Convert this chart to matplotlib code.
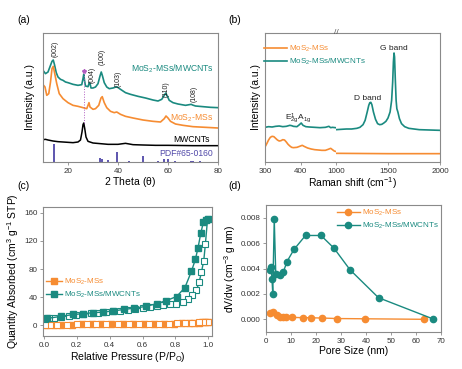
import numpy as np
import matplotlib
matplotlib.use("Agg")
import matplotlib.pyplot as plt

plt.rcParams['font.family'] = ['Liberation Sans', 'DejaVu Sans']
plt.rcParams['mathtext.fontset'] = 'custom'
plt.rcParams['mathtext.rm'] = 'Liberation Sans'
plt.rcParams['mathtext.it'] = 'Liberation Sans'

TEAL = '#1a8a80'
ORANGE = '#f68c32'
PURPLE = '#5048a8'
GRAY = '#8a8a8a'

# ---- (a) XRD ----
xrd_x_hyb = [10, 11, 12, 13, 13.6, 14.1, 14.6, 15.3, 16, 17, 18, 19, 20, 22, 24, 25.5, 26.0, 26.3, 26.6, 27,
             28, 28.5, 28.8, 29.2, 30, 31, 32, 32.8, 33.3, 33.8, 34.5, 35.5, 36.5, 38, 39.5, 41, 43, 45, 48,
             51, 54, 56, 57.5, 58.5, 59.1, 59.7, 60.5, 62, 64, 67, 69.3, 69.8, 71, 74, 77, 80]
xrd_y_hyb = [275, 265, 270, 290, 302, 306, 292, 268, 255, 248, 245, 240, 238, 233, 230, 232, 250, 263, 245, 228,
             226, 238, 236, 222, 222, 225, 235, 258, 270, 258, 238, 225, 220, 222, 226, 218, 208, 203, 197,
             192, 186, 183, 188, 200, 207, 198, 185, 178, 174, 170, 173, 171, 168, 166, 164, 163]
xrd_x_mos = [10, 10.8, 11.5, 12.3, 13, 13.6, 14.1, 14.7, 15.5, 16.5, 18, 20, 22, 24, 26, 27.5, 28.4, 28.8, 30,
             31, 32.3, 33.2, 33.7, 34.5, 35.5, 37, 38.5, 39.5, 41, 43, 46, 50, 54, 57, 58.5, 59.2, 60, 61, 63,
             66, 70, 75, 80]
xrd_y_mos = [232, 225, 200, 205, 240, 280, 287, 265, 235, 205, 190, 178, 170, 167, 163, 160, 178, 165, 158,
             160, 170, 192, 196, 178, 163, 152, 148, 150, 143, 137, 132, 126, 122, 120, 130, 138, 132, 122, 114,
             110, 106, 104, 102]
xrd_x_cnt = [10, 11, 12, 14, 16, 18, 20, 22, 24, 25, 25.6, 26.0, 26.3, 26.7, 27.2, 28, 30, 33, 36, 40, 43, 46,
             50, 55, 60, 70, 80]
xrd_y_cnt = [67, 68, 66, 63, 61, 60, 59, 58, 60, 66, 90, 112, 117, 100, 75, 62, 57, 55, 53, 53, 56, 52,
             51, 50, 50, 49, 49]
pdf_pos = [14.4, 32.7, 33.5, 35.9, 39.5, 44.2, 49.8, 55.9, 58.3, 60.1, 62.8, 69.1, 70.1, 72.8]
pdf_h = [55, 12, 8, 6, 30, 3, 17, 4, 8, 10, 4, 3, 3, 2]
hkl_labels = ['(002)', '(004)', '(100)', '(103)', '(110)', '(108)']
hkl_x = [15.0, 29.8, 33.5, 40.0, 59.3, 70.3]
hkl_y = [339, 262, 315, 250, 219, 204]

# ---- (b) Raman ----
ram_lo_x_mos = [300, 305, 310, 315, 320, 325, 330, 335, 340, 345, 350, 355, 360, 365, 370, 375, 380, 390, 400,
                405, 410, 420, 430, 440, 450, 460, 470, 478, 485, 490, 495, 498]
ram_lo_y_mos = [45, 55, 66, 74, 77, 76, 71, 66, 63, 64, 67, 66, 60, 53, 48, 44, 43, 44, 48,
                50, 47, 42, 39, 37, 36, 35, 35, 38, 41, 37, 33, 32]
ram_lo_x_hyb = [300, 310, 320, 330, 340, 350, 360, 370, 375, 380, 390, 397, 402, 407, 415, 425, 440, 455,
                470, 480, 485, 490, 498]
ram_lo_y_hyb = [104, 106, 105, 107, 108, 106, 107, 110, 109, 107, 106, 112, 117, 110, 106, 105, 104, 103,
                104, 107, 103, 104, 103]
ram_hi_x_hyb = [1000, 1050, 1100, 1150, 1200, 1230, 1260, 1280, 1300, 1315, 1325, 1335, 1345, 1360, 1380, 1400,
                1420, 1440, 1460, 1480, 1500, 1520, 1535, 1545, 1552, 1558, 1563, 1570, 1578, 1585, 1595, 1610,
                1630, 1660, 1700, 1750, 1800, 1900, 2000]
ram_hi_y_hyb = [97, 98, 99, 99, 101, 104, 112, 125, 150, 170, 178, 179, 172, 150, 128, 115,
                112, 113, 117, 122, 132, 150, 185, 240, 300, 327, 315, 250, 185, 160, 150, 130,
                115, 106, 101, 99, 97, 96, 95]
ram_hi_x_mos = [1000, 1500, 2000]
ram_hi_y_mos = [26, 25, 25]

# ---- (c) N2 isotherms ----
p_ads_hyb = [0.02, 0.105, 0.178, 0.238, 0.296, 0.357, 0.419, 0.488, 0.549, 0.621, 0.685, 0.742, 0.807,
             0.857, 0.897, 0.921, 0.937, 0.954, 0.970, 0.985, 0.995]
q_ads_hyb = [10, 12.8, 15.5, 16.6, 18, 18.9, 20.5, 22.7, 24.5, 27, 30.8, 35, 41,
             53.5, 76.7, 93.7, 110, 131, 146.7, 150, 151]
p_des_hyb = [0.995, 0.982, 0.972, 0.958, 0.944, 0.927, 0.903, 0.875, 0.847, 0.805, 0.766, 0.725, 0.685,
             0.645, 0.6, 0.555, 0.51, 0.465, 0.42, 0.375, 0.33, 0.285, 0.24, 0.195, 0.15, 0.105, 0.06,
             0.03, 0.005]
q_des_hyb = [151, 116, 92, 75.7, 61.5, 49.7, 42.6, 37, 33, 31, 29.8, 28.5, 27.5,
             26, 24.5, 23.5, 22, 21, 20, 19, 18, 17, 16, 15, 13.5, 12.5, 11, 10, 9]
p_ads_mos = [0.02, 0.06, 0.105, 0.17, 0.23, 0.29, 0.35, 0.41, 0.48, 0.54, 0.61, 0.67, 0.73, 0.79, 0.84,
             0.88, 0.91, 0.94, 0.96, 0.98, 0.995]
q_ads_mos = [0.8, 1.0, 1.2, 1.3, 1.4, 1.5, 1.6, 1.7, 1.8, 1.9, 2.0, 2.2, 2.4, 2.7, 3.0,
             3.3, 3.6, 4.0, 4.4, 4.9, 5.3]
p_des_mos = [0.995, 0.97, 0.94, 0.9, 0.86, 0.81, 0.76, 0.7, 0.64, 0.58, 0.52, 0.45, 0.38, 0.32, 0.26,
             0.2, 0.14, 0.08, 0.04, 0.01]
q_des_mos = [5.3, 4.8, 4.2, 3.7, 3.2, 2.8, 2.5, 2.3, 2.1, 2.0, 1.9, 1.8, 1.7, 1.6, 1.5,
             1.4, 1.3, 1.1, 0.8, 0.3]

# ---- (d) pore size distribution ----
pore_hyb = [1.7, 2.0, 2.4, 2.7, 3.3, 3.9, 5.5, 6.9, 8.4, 11.2, 15.8, 22.0, 27.2, 33.6, 45.0, 66.8]
dv_hyb = [0.0039, 0.0041, 0.0032, 0.0020, 0.0079, 0.0036, 0.0035, 0.0037, 0.00455, 0.0055, 0.0066,
          0.0066, 0.0056, 0.0039, 0.0017, 0.00003]
pore_mos = [1.6, 2.9, 4.3, 5.6, 6.9, 8.0, 10.3, 14.7, 18.0, 22.3, 28.4, 39.7, 63.0]
dv_mos = [0.0005, 0.00055, 0.0003, 0.00022, 0.0002, 0.00018, 0.00015, 0.00013, 0.00012, 0.0001,
          0.00006, 0.00004, 0.0]

lab_mos = 'MoS$_2$-MSs'
lab_hyb = 'MoS$_2$-MSs/MWCNTs'

fig = plt.figure(figsize=(4.62, 3.69), dpi=100)
W, H = 462.0, 369.0


def px_axes(l, t, r, b):
    return fig.add_axes([l / W, 1 - b / H, (r - l) / W, (b - t) / H])


def style(ax):
    for s in ax.spines.values():
        s.set_color(GRAY)
        s.set_linewidth(0.8)
    ax.tick_params(colors='#333333', labelsize=5.8, length=2.5, width=0.6, pad=1.5)
    ax.tick_params(axis='both', color=GRAY)


# (a)
ax = px_axes(43, 33, 218, 162)
style(ax)
ax.plot(xrd_x_hyb, xrd_y_hyb, color=TEAL, lw=1.2)
ax.plot(xrd_x_mos, xrd_y_mos, color=ORANGE, lw=1.2)
ax.plot(xrd_x_cnt, xrd_y_cnt, color='black', lw=1.1)
ax.vlines(pdf_pos, 0, pdf_h, color=PURPLE, lw=1.3)
ax.vlines(26.3, 118, 266, color='#b05cc0', lw=0.7, linestyles=':')
ax.plot([26.3], [274], marker='*', color='#b05cc0', ms=3)
for t, x, y in zip(hkl_labels, hkl_x, hkl_y):
    ax.text(x, y, t, rotation=90, fontsize=5, ha='center', va='center', color='#222222')
ax.text(78.5, 279, lab_hyb, color=TEAL, fontsize=6.2, ha='right', va='center')
ax.text(78.2, 132, lab_mos, color=ORANGE, fontsize=6.2, ha='right', va='center')
ax.text(76.5, 67, 'MWCNTs', color='black', fontsize=6.2, ha='right', va='center')
ax.text(78.2, 25, 'PDF#65-0160', color=PURPLE, fontsize=6.2, ha='right', va='center')
ax.set_xlim(10, 80)
ax.set_ylim(0, 387)
ax.set_xticks([20, 40, 60, 80])
ax.set_yticks([])
ax.set_xlabel('2 Theta ($\\theta$)', fontsize=7.5, labelpad=0.5)
ax.set_ylabel('Intensity (a.u.)', fontsize=7.5, labelpad=6)

# (b)
axl = px_axes(265, 33, 336, 162)
axr = px_axes(336, 33, 440, 162)
for a in (axl, axr):
    style(a)
    a.set_ylim(0, 387)
    a.set_yticks([])
axl.spines['right'].set_visible(False)
axr.spines['left'].set_visible(False)
axl.plot(ram_lo_x_mos, ram_lo_y_mos, color=ORANGE, lw=1.2, label=lab_mos)
axl.plot(ram_lo_x_hyb, ram_lo_y_hyb, color=TEAL, lw=1.2, label=lab_hyb)
axr.plot(ram_hi_x_mos, ram_hi_y_mos, color=ORANGE, lw=1.2)
axr.plot(ram_hi_x_hyb, ram_hi_y_hyb, color=TEAL, lw=1.2)
axl.set_xlim(300, 500)
axl.set_xticks([300, 400])
axr.set_xlim(1000, 2000)
axr.set_xticks([1000, 1500, 2000])
axr.text(1306, 190, 'D band', fontsize=6, ha='center', va='center', color='#222222')
axr.text(1555, 339, 'G band', fontsize=6, ha='center', va='center', color='#222222')
axl.text(392, 132, 'E$^1_{2g}$A$_{1g}$', fontsize=6, ha='center', va='center', color='#222222')
axl.set_ylabel('Intensity (a.u.)', fontsize=7.5, labelpad=3)
fig.text(353 / W, 1 - 183 / H, 'Raman shift (cm$^{-1}$)', fontsize=7.5, ha='center', va='center')
fig.text(336 / W, 1 - 32 / H, '//', fontsize=6, ha='center', va='center', color='#555555')
h, l = axl.get_legend_handles_labels()
fig.legend(h, l, loc='upper left', bbox_to_anchor=(264 / W, 1 - 44 / H), frameon=False, fontsize=5.8,
           handlelength=2.8, handletextpad=0.3, labelspacing=0.35, labelcolor='linecolor',
           borderpad=0, borderaxespad=0)

# (c)
ax = px_axes(43, 207, 212, 336)
style(ax)
ax.plot(p_ads_mos, q_ads_mos, color=ORANGE, lw=1.0, marker='s', ms=3.8, mec=ORANGE, mfc=ORANGE,
        label=lab_mos)
ax.plot(p_des_mos, q_des_mos, color=ORANGE, lw=1.0, marker='s', ms=3.8, mec=ORANGE, mfc='white', mew=0.8)
ax.plot(p_des_hyb, q_des_hyb, color=TEAL, lw=1.0, marker='s', ms=3.8, mec=TEAL, mfc='white', mew=0.8)
ax.plot(p_ads_hyb, q_ads_hyb, color=TEAL, lw=1.0, marker='s', ms=3.8, mec=TEAL, mfc=TEAL,
        label=lab_hyb)
ax.set_xlim(-0.005, 1.022)
ax.set_ylim(-15, 168)
ax.set_xticks([0.0, 0.2, 0.4, 0.6, 0.8, 1.0])
ax.set_yticks([0, 40, 80, 120, 160])
ax.set_xlabel('Relative Pressure (P/P$_\\mathrm{O}$)', fontsize=7.5, labelpad=1)
ax.set_ylabel('Quantity Absorbed (cm$^3$ g$^{-1}$ STP)', fontsize=7.5, labelpad=2)
ax.legend(loc='center left', bbox_to_anchor=(0.02, 0.37), frameon=False, fontsize=5.8,
          handlelength=1.9, handletextpad=0.3, labelspacing=0.35, labelcolor='linecolor',
          borderpad=0, borderaxespad=0)

# (d)
ax = px_axes(266, 205, 441, 332)
style(ax)
ax.plot(pore_mos, dv_mos, color=ORANGE, lw=1.0, marker='o', ms=4.5, label=lab_mos)
ax.plot(pore_hyb, dv_hyb, color=TEAL, lw=1.0, marker='o', ms=4.5, label=lab_hyb)
ax.set_xlim(0, 70)
ax.set_ylim(-0.001, 0.009)
ax.set_xticks(range(0, 71, 10))
ax.set_yticks([0.0, 0.002, 0.004, 0.006, 0.008])
ax.set_yticklabels(['0.000', '0.002', '0.004', '0.006', '0.008'])
ax.set_xlabel('Pore Size (nm)', fontsize=7.5, labelpad=1)
ax.set_ylabel('dV/dw (cm$^{-3}$ g nm)', fontsize=7.5, labelpad=2)
ax.legend(loc='upper right', bbox_to_anchor=(0.99, 0.98), frameon=False, fontsize=5.8,
          handlelength=2.8, handletextpad=0.3, labelspacing=0.35, labelcolor='linecolor',
          borderpad=0, borderaxespad=0)

for t, x, y in [('(a)', 17, 20), ('(b)', 228, 20), ('(c)', 17, 186), ('(d)', 228, 186)]:
    fig.text(x / W, 1 - y / H, t, fontsize=7.5, ha='left', va='center')

fig.savefig('out.png', dpi=100)
